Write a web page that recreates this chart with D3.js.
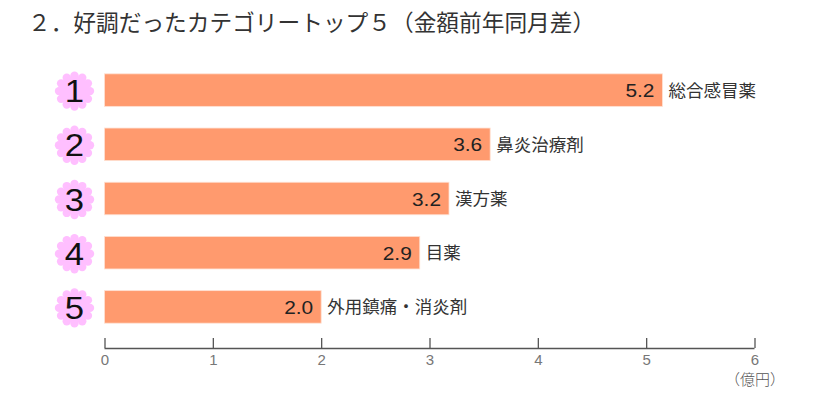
<!DOCTYPE html>
<html><head><meta charset="utf-8"><script src="https://cdn.jsdelivr.net/npm/d3@7/dist/d3.min.js"></script>
<style>html,body{margin:0;background:#fff}svg{display:block}text{font-family:"Noto Sans CJK JP","Noto Sans",sans-serif;fill:#222}</style></head><body><svg id="c" width="829" height="394"></svg>
<script>
const titleText="２．好調だったカテゴリートップ５（金額前年同月差）";
const categories=["総合感冒薬","鼻炎治療剤","漢方薬","目薬","外用鎮痛・消炎剤"];
const ranks=["1","2","3","4","5"];
const values=[5.2,3.6,3.2,2.9,2.0];
const barLengths=[5.15,3.56,3.18,2.91,2.0];
const ticks=[0,1,2,3,4,5,6];
const unit="（億円）";
const svg=d3.select("#c");
const x=d3.scaleLinear().domain([0,6]).range([104.5,754.5]);
const y=d3.scaleBand().domain(ranks).range([63,334]).paddingInner(0.4).paddingOuter(0.2);
svg.append("text").attr("x",28).attr("y",31).attr("font-size",22.7).attr("font-weight",400).style("fill","#333").text(titleText);
const g=svg.append("g").selectAll("g").data(ranks).join("g");
g.append("rect").attr("x",x(0)).attr("y",d=>y(d)).attr("width",(d,i)=>x(barLengths[i])-x(0)).attr("height",y.bandwidth()).attr("fill","#ff9a6e").attr("stroke","#ffe0d2").attr("stroke-width",0.8);
g.each(function(d){const s=d3.select(this),cx=74.5,cy=y(d)+y.bandwidth()/2+1;
  d3.range(12).forEach(k=>{const a=k*Math.PI/6;s.append("circle").attr("cx",cx+15.5*Math.cos(a)).attr("cy",cy+15.5*Math.sin(a)).attr("r",4.2).attr("fill","#ffbfff");});
  s.append("circle").attr("cx",cx).attr("cy",cy).attr("r",15).attr("fill","#ffbfff");
  s.append("text").attr("transform",`translate(${cx},${cy+11}) scale(1.12,1)`).attr("text-anchor","middle").attr("font-size",31).style("font-family","Liberation Sans").style("fill","#111").text(d);
});
g.append("text").attr("x",(d,i)=>x(barLengths[i])-8).attr("y",d=>y(d)+y.bandwidth()/2+7).attr("text-anchor","end").attr("font-size",19).attr("textLength",29).attr("lengthAdjust","spacingAndGlyphs").style("font-family","Liberation Sans").text((d,i)=>values[i].toFixed(1));
g.append("text").attr("x",(d,i)=>x(barLengths[i])+6).attr("y",d=>y(d)+y.bandwidth()/2+6.5).attr("font-size",17.5).attr("font-weight",400).style("fill","#333").text((d,i)=>categories[i]);
const ax=svg.append("g").attr("transform","translate(0,348)").call(d3.axisBottom(x).tickValues(ticks).tickSize(-10).tickFormat(d3.format("d")));
ax.selectAll("path,line").attr("stroke","#555").attr("stroke-width",1.3);
ax.select("path").attr("d","M104.5,0.5H754.5");
ax.selectAll("text").attr("font-size",15).attr("y",6).attr("dy","0.71em").style("font-family","Liberation Sans").style("fill","#777");
svg.append("text").attr("x",785).attr("y",385).attr("text-anchor","end").attr("font-size",15).attr("font-weight",300).style("fill","#555").text(unit);
</script></body></html>
